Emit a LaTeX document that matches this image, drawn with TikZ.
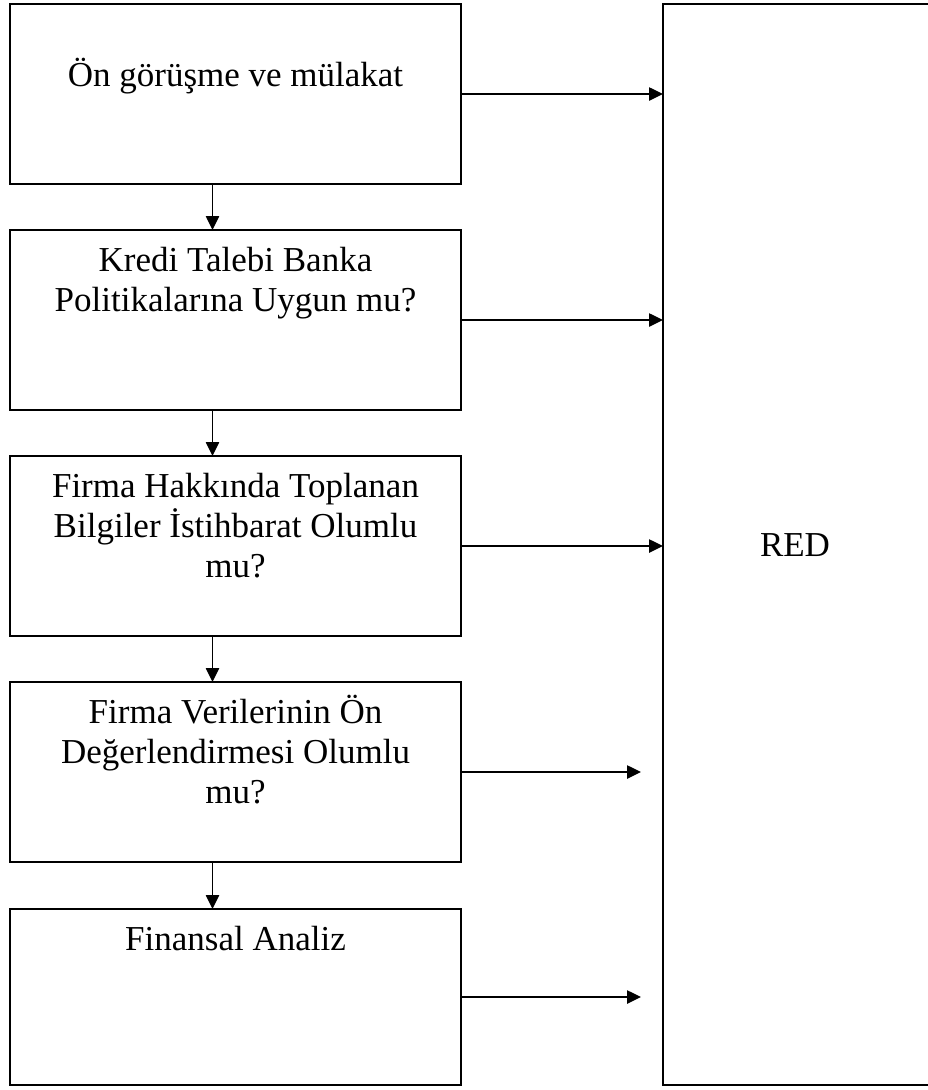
\documentclass[tikz,border=0pt]{standalone}
\usepackage{fontspec}
\setmainfont{Liberation Serif}
\usetikzlibrary{arrows.meta}
\begin{document}
\begin{tikzpicture}[x=0.75pt,y=-0.75pt,
  box/.style={draw, line width=1.3pt, inner sep=0pt, outer sep=0pt, minimum width=338.25pt},
  txt/.style={anchor=base, inner sep=0pt, font=\fontsize{26.25}{30}\selectfont},
  arr/.style={line width=1.1pt, -{Triangle[length=10.5pt,width=10pt]}}]
\useasboundingbox (0,0) rectangle (928,1090);
% left boxes
\node[box, minimum height=135pt] (b1) at (235.5,94) {};
\node[box, minimum height=135pt] (b2) at (235.5,320) {};
\node[box, minimum height=135pt] (b3) at (235.5,546) {};
\node[box, minimum height=135pt] (b4) at (235.5,772) {};
\node[box, minimum height=132pt] (b5) at (235.5,997) {};
% RED box (right side runs past the page edge)
\node[box, minimum width=207.75pt, minimum height=810.75pt] (red) at (801.5,544.5) {};
% texts
\node[txt] (t1) at (235.5,86) {Ön görüşme ve mülakat};
\node[txt] (t2a) at (235.5,271) {Kredi Talebi Banka};
\node[txt] (t2b) at (235.5,311) {Politikalarına Uygun mu?};
\node[txt] (t3a) at (235.5,497) {Firma Hakkında Toplanan};
\node[txt] (t3b) at (235.5,537) {Bilgiler İstihbarat Olumlu};
\node[txt] (t3c) at (235.5,577) {mu?};
\node[txt] (t4a) at (235.5,723) {Firma Verilerinin Ön};
\node[txt] (t4b) at (235.5,763) {Değerlendirmesi Olumlu};
\node[txt] (t4c) at (235.5,803) {mu?};
\node[txt] (t5) at (235.5,950) {Finansal Analiz};
\node[txt] (tr) at (795,556) {RED};
% connectors
\coordinate (dx) at (212.5,0);
\coordinate (stop) at (641,0);
\draw[arr] (b1.south -| dx) -- (b2.north -| dx);
\draw[arr] (b2.south -| dx) -- (b3.north -| dx);
\draw[arr] (b3.south -| dx) -- (b4.north -| dx);
\draw[arr] (b4.south -| dx) -- (b5.north -| dx);
\draw[arr] (b1.east) -- (b1.east -| red.west);
\draw[arr] (b2.east) -- (b2.east -| red.west);
\draw[arr] (b3.east) -- (b3.east -| red.west);
\draw[arr] (b4.east) -- (b4.east -| stop);
\draw[arr] (b5.east) -- (b5.east -| stop);
\end{tikzpicture}
\end{document}
